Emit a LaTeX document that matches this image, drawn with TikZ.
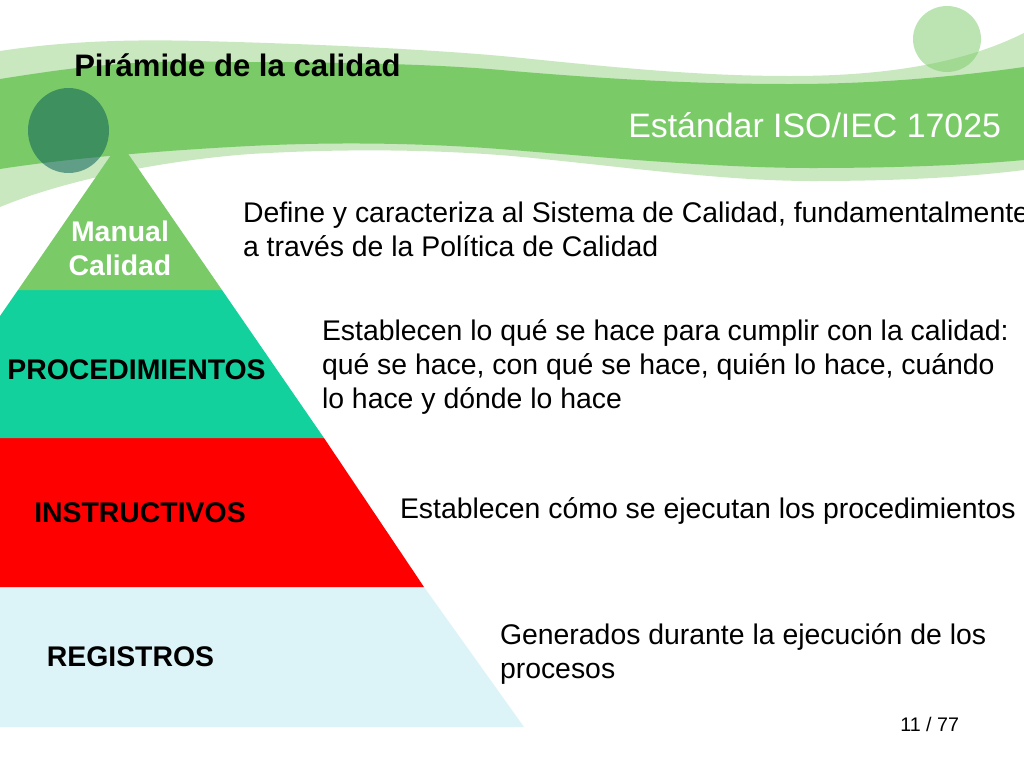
\documentclass[tikz,border=0pt]{standalone}
\usepackage{fontspec}
\setmainfont{Liberation Sans}
\definecolor{bandlight}{HTML}{C9E8C0}
\definecolor{bandgreen}{HTML}{7ACB68}
\definecolor{darkdot}{HTML}{0D6259}
\definecolor{teal1}{HTML}{12D19C}
\definecolor{pale}{HTML}{DCF4F8}
\tikzset{
  body/.style={anchor=base west,inner sep=0pt,outer sep=0pt,align=left,font=\fontsize{21.3}{25.5}\selectfont,text=black},
  tier/.style={anchor=base,inner sep=0pt,outer sep=0pt,font=\fontsize{21.3}{25.5}\selectfont\bfseries,text=black},
  tierwhite/.style={tier,align=center,text=white}
}
\begin{document}
\begin{tikzpicture}[x=0.75pt,y=-0.75pt]
\useasboundingbox (0,0) rectangle (1024,768);
\clip (0,0) rectangle (1024,768);
\fill[white] (0,0) rectangle (1024,768);
% light band
\fill[bandlight] (0,51) .. controls (60,42) and (120,39) .. (200,41)
  .. controls (320,44) and (440,50) .. (512,57)
  .. controls (620,68) and (700,76) .. (790,76)
  .. controls (880,76) and (960,65) .. (1024,33)
  -- (1024,170) .. controls (960,178) and (890,181) .. (812,181)
  .. controls (720,181) and (610,165) .. (512,156)
  .. controls (440,150) and (350,148) .. (250,154)
  .. controls (170,160) and (70,178) .. (0,207) -- cycle;
% main band
\fill[bandgreen] (0,79) .. controls (70,68) and (130,59) .. (230,62)
  .. controls (340,62) and (440,64) .. (512,71)
  .. controls (620,80) and (700,84) .. (790,84)
  .. controls (880,84) and (960,76) .. (1024,67)
  -- (1024,160) .. controls (960,166) and (880,168) .. (812,168)
  .. controls (720,168) and (610,158) .. (512,150)
  .. controls (440,144) and (350,141) .. (250,146)
  .. controls (170,150) and (70,158) .. (0,169) -- cycle;
% circles
\fill[darkdot,fill opacity=0.55] (68.5,130.5) ellipse [x radius=40.5,y radius=42.5];
\fill[bandgreen,fill opacity=0.5] (947,39) ellipse [x radius=34,y radius=33];
% pyramid
\fill[pale] (0,587) -- (424,587) -- (524,727) -- (0,727) -- cycle;
\fill[red] (0,438) -- (324,438) -- (424,587) -- (0,587) -- cycle;
\fill[teal1] (18,290) -- (222,290) -- (324,438) -- (0,438) -- (0,316) -- cycle;
\fill[bandgreen] (120,142) -- (222,290) -- (18,290) -- cycle;
% texts
\node[anchor=base west,inner sep=0pt,font=\fontsize{23.3}{28}\selectfont\bfseries] (title) at (74,76.5) {Pirámide de la calidad};
\node[anchor=base west,inner sep=0pt,text=white,font=\fontsize{25.4}{30}\selectfont] (std) at (628,137) {Estándar ISO/IEC 17025};
\node[tierwhite] (manual) at (120,241) {Manual};
\node[tierwhite] (calidad) at (120,275) {Calidad};
\node[tier] (proc) at (136.5,379) {PROCEDIMIENTOS};
\node[tier] (instr) at (140,522) {INSTRUCTIVOS};
\node[tier] (reg) at (130.5,666) {REGISTROS};
\node[body] (d1a) at (243,222.5) {Define y caracteriza al Sistema de Calidad, fundamentalmente};
\node[body] (d1b) at (243,256.5) {a través de la Política de Calidad};
\node[body] (d2a) at (322,340.5) {Establecen lo qué se hace para cumplir con la calidad:};
\node[body] (d2b) at (322,374.5) {qué se hace, con qué se hace, quién lo hace, cuándo};
\node[body] (d2c) at (322,408.5) {lo hace y dónde lo hace};
\node[body] (d3) at (400,518.5) {Establecen cómo se ejecutan los procedimientos};
\node[body] (d4a) at (500,644.5) {Generados durante la ejecución de los};
\node[body] (d4b) at (500,678.5) {procesos};
\node[anchor=base west,inner sep=0pt,font=\fontsize{14.75}{17}\selectfont] (page) at (900,731) {11 / 77};
\end{tikzpicture}
\end{document}
